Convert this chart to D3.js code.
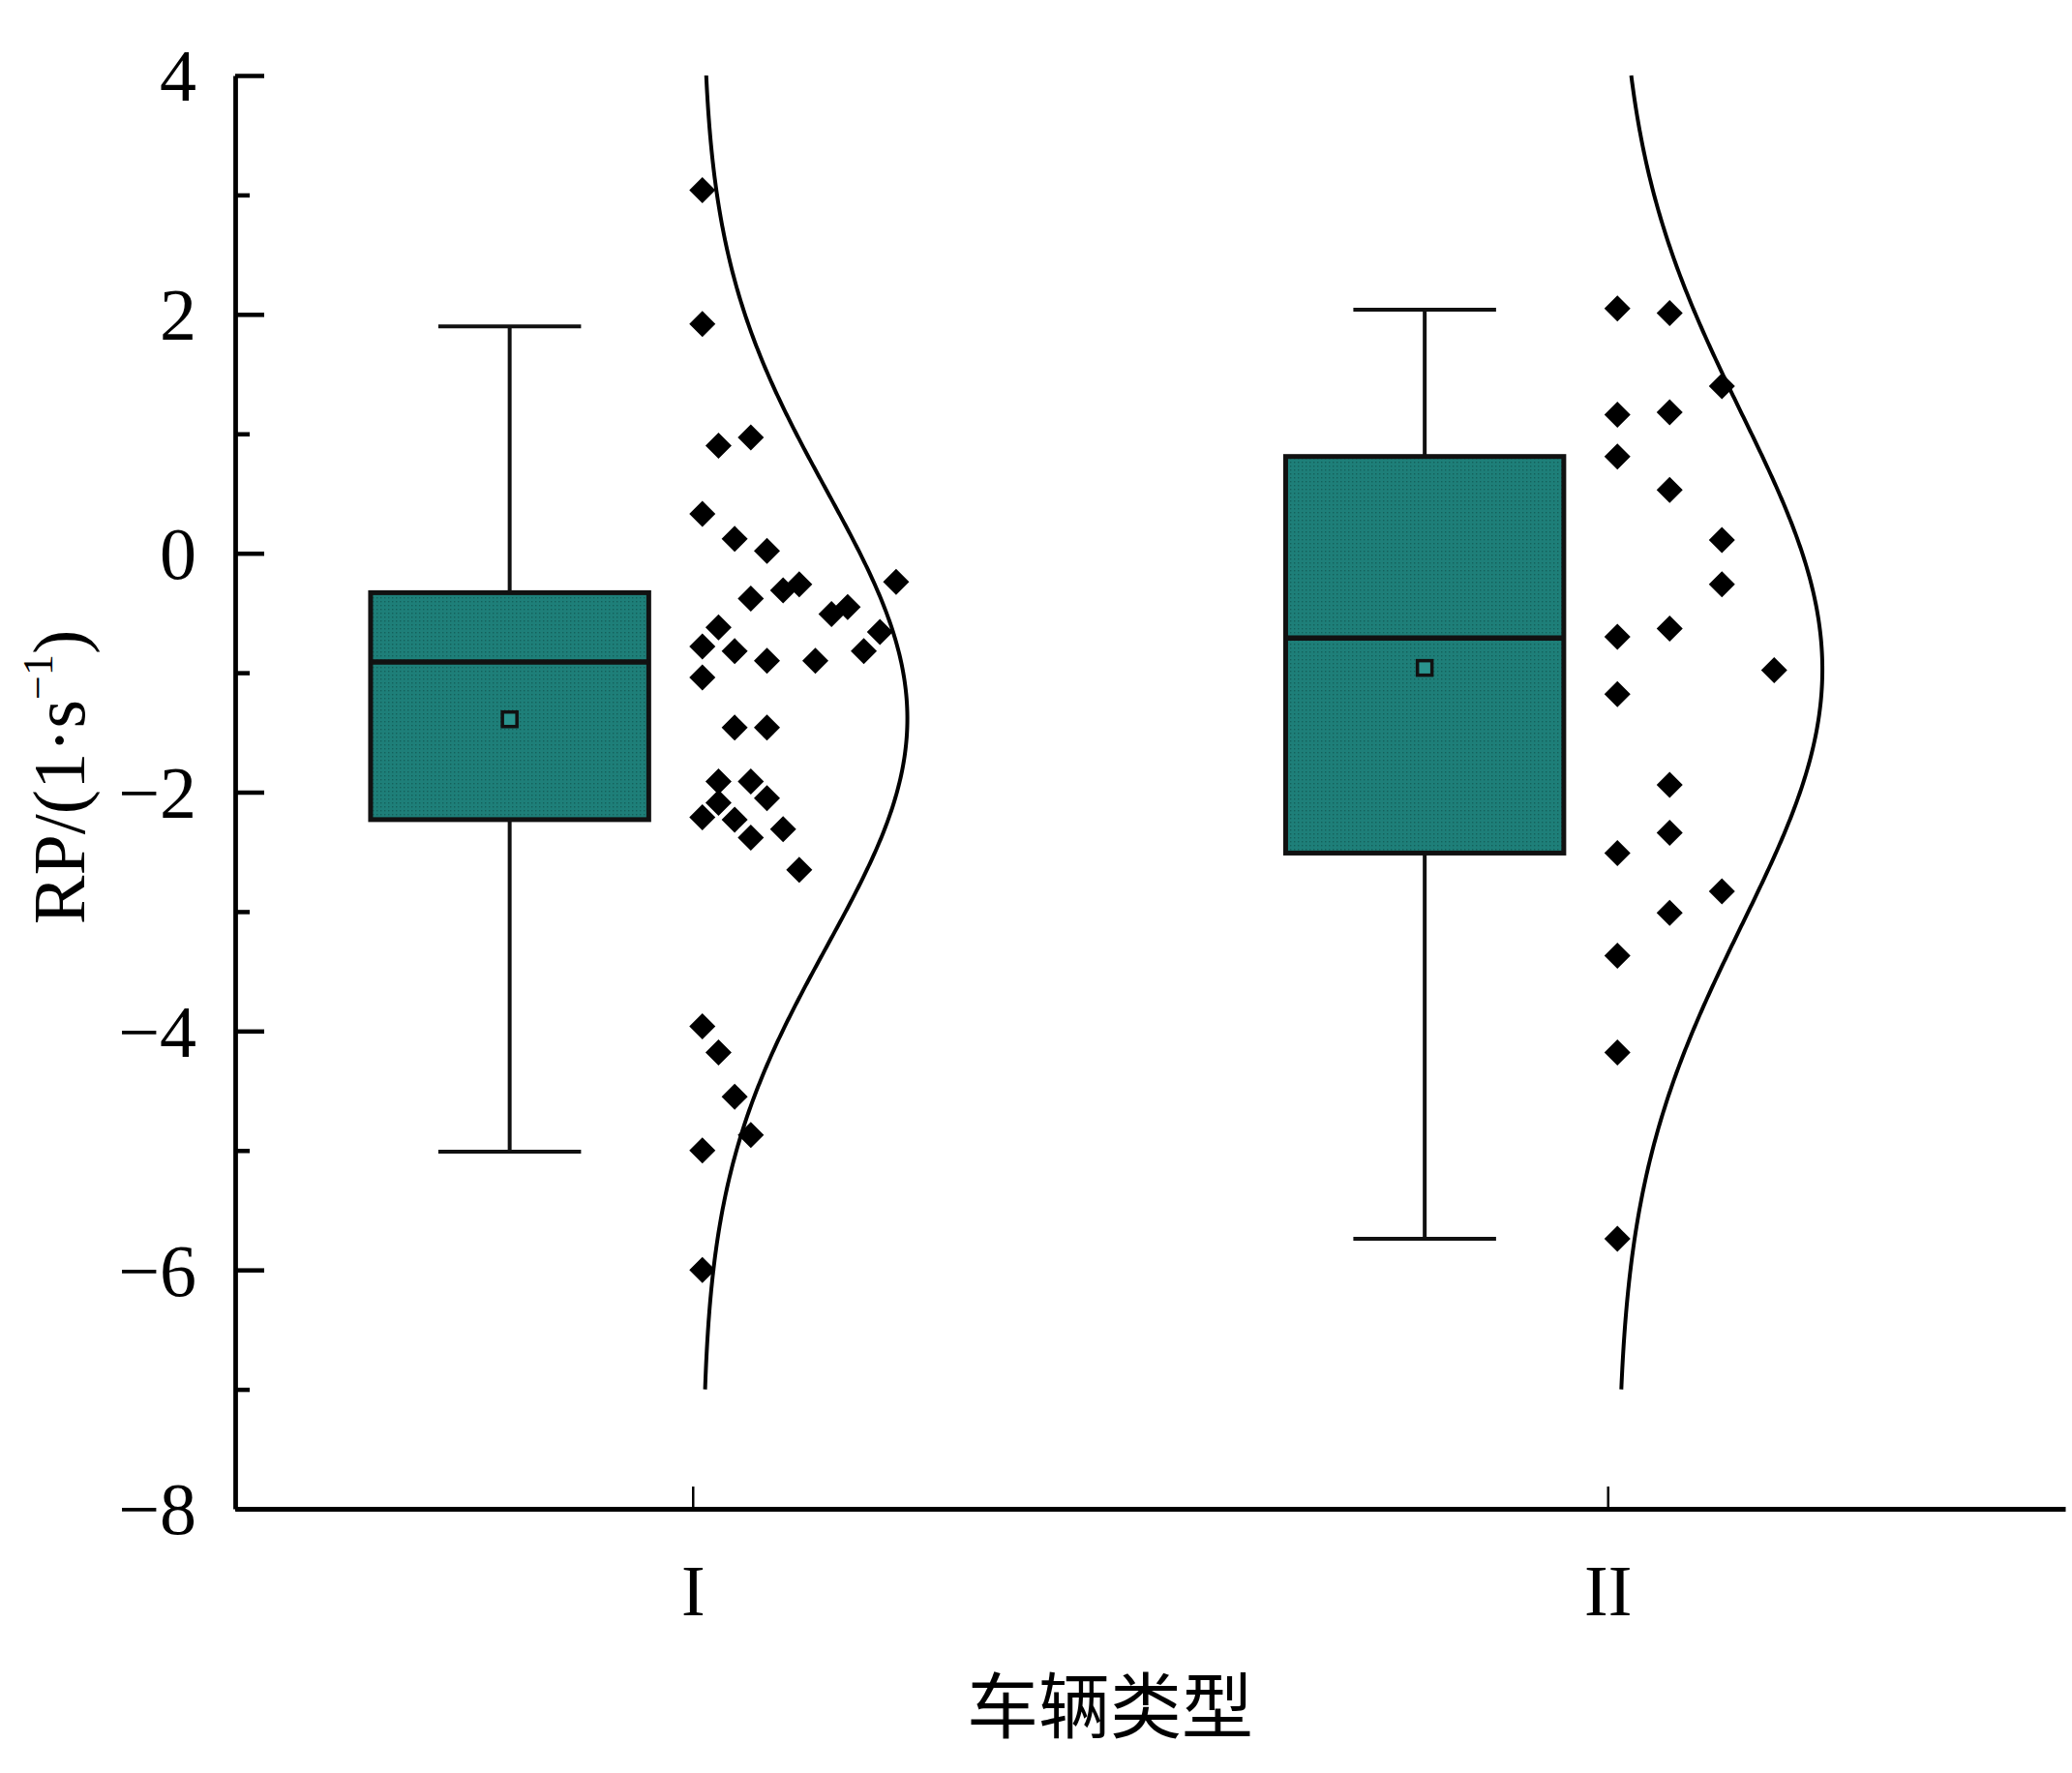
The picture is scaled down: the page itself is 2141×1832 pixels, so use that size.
<!DOCTYPE html>
<html>
<head>
<meta charset="utf-8">
<script src="https://cdn.jsdelivr.net/npm/d3@7"></script>
<style>
  html, body { margin: 0; padding: 0; background: #fff; }
  svg { display: block; }
</style>
</head>
<body>
<script>
// ---------------- data ----------------
const categories = ["I", "II"];
const categoryPos = [1, 2];

const boxQ1 = [-2.23, -2.51];
const boxMedian = [-0.91, -0.71];
const boxQ3 = [-0.33, 0.81];
const whiskerLow = [-5.01, -5.74];
const whiskerHigh = [1.90, 2.04];
const boxMean = [-1.39, -0.96];

// raw points (value) and their overlap column (slot)
const pointsI = [3.04, 1.92, 0.90, 0.97, 0.33, 0.12, 0.02, -0.24, -0.38, -0.31, -0.26, -0.51, -0.45,
  -0.62, -0.66, -0.78, -0.82, -0.90, -0.90, -0.82, -1.04, -1.46, -1.46, -1.91, -1.91, -2.05, -2.09,
  -2.21, -2.23, -2.38, -2.31, -2.65, -3.96, -4.18, -4.55, -4.87, -5.00, -6.00];
const slotsI = [0, 0, 1, 3, 0, 2, 4, 12, 3, 5, 6, 8, 9,
  1, 11, 0, 2, 4, 7, 10, 0, 2, 4, 1, 3, 4, 1,
  0, 2, 3, 5, 6, 0, 1, 2, 3, 0, 0];

const pointsII = [2.05, 1.16, 0.81, -0.70, -1.18, -2.51, -3.37, -4.18, -5.74,
  2.01, 1.18, 0.53, -0.63, -1.94, -2.34, -3.01,
  1.40, 0.11, -0.26, -2.83,
  -0.98];
const slotsII = [0, 0, 0, 0, 0, 0, 0, 0, 0,
  1, 1, 1, 1, 1, 1, 1,
  2, 2, 2, 2,
  3];

const yMajorTicks = [-8, -6, -4, -2, 0, 2, 4];
const yMinorTicks = [-7, -5, -3, -1, 1, 3];
const curveRange = [-7, 4];

const yTitle = "RP/(1·s";
const ySup = "−1";
const xTitle = "车辆类型";

// ---------------- layout ----------------
const W = 2141, H = 1832;
const svg = d3.select("body").append("svg").attr("width", W).attr("height", H);
svg.append("rect").attr("width", W).attr("height", H).attr("fill", "#fff");

const x = d3.scaleLinear().domain([0.5, 2.5]).range([243, 2134]);
const y = d3.scaleLinear().domain([-8, 4]).range([1559, 78]);

const boxOffset = -0.2, boxHalf = 0.152, capHalf = 0.078;
const pointOffset = 0.0106;
const slotStep = [0.01764, 0.0571];
const curveAmp = 0.224;

// pattern fill for boxes
const defs = svg.append("defs");
const pat = defs.append("pattern").attr("id", "teal").attr("width", 4).attr("height", 4)
  .attr("patternUnits", "userSpaceOnUse");
pat.append("rect").attr("width", 4).attr("height", 4).attr("fill", "#1e7f79");
pat.append("rect").attr("x", 1).attr("y", 1).attr("width", 1.4).attr("height", 1.4).attr("fill", "#14605a");

const serif = "'Liberation Serif', 'Times New Roman', serif";

// ---------------- boxes ----------------
categories.forEach((c, i) => {
  const cx = categoryPos[i] + boxOffset;
  const g = svg.append("g");
  g.append("line").attr("x1", x(cx)).attr("x2", x(cx))
    .attr("y1", y(whiskerHigh[i])).attr("y2", y(boxQ3[i]))
    .attr("stroke", "#111").attr("stroke-width", 4);
  g.append("line").attr("x1", x(cx)).attr("x2", x(cx))
    .attr("y1", y(boxQ1[i])).attr("y2", y(whiskerLow[i]))
    .attr("stroke", "#111").attr("stroke-width", 4);
  [whiskerHigh[i], whiskerLow[i]].forEach(v => {
    g.append("line").attr("x1", x(cx - capHalf)).attr("x2", x(cx + capHalf))
      .attr("y1", y(v)).attr("y2", y(v))
      .attr("stroke", "#111").attr("stroke-width", 4);
  });
  g.append("rect").attr("x", x(cx - boxHalf)).attr("y", y(boxQ3[i]))
    .attr("width", x(cx + boxHalf) - x(cx - boxHalf))
    .attr("height", y(boxQ1[i]) - y(boxQ3[i]))
    .attr("fill", "url(#teal)").attr("stroke", "#111").attr("stroke-width", 5);
  g.append("line").attr("x1", x(cx - boxHalf)).attr("x2", x(cx + boxHalf))
    .attr("y1", y(boxMedian[i])).attr("y2", y(boxMedian[i]))
    .attr("stroke", "#111").attr("stroke-width", 5.5);
  g.append("rect").attr("x", x(cx) - 7.5).attr("y", y(boxMean[i]) - 7.5)
    .attr("width", 15).attr("height", 15)
    .attr("fill", "#2a948e").attr("stroke", "#111").attr("stroke-width", 3.5);
});

// ---------------- points ----------------
const diamond = "M0,-13.5L13.5,0L0,13.5L-13.5,0Z";
const groups = [
  { vals: pointsI, slots: slotsI },
  { vals: pointsII, slots: slotsII }
];
groups.forEach((grp, i) => {
  const base = categoryPos[i] + pointOffset;
  svg.append("g").selectAll("path").data(grp.vals).join("path")
    .attr("d", diamond)
    .attr("transform", (v, k) => `translate(${x(base + grp.slots[k] * slotStep[i])},${y(v)})`)
    .attr("fill", "#000");
});

// ---------------- normal curves ----------------
groups.forEach((grp, i) => {
  const mu = d3.mean(grp.vals), sd = d3.deviation(grp.vals);
  const base = categoryPos[i] + pointOffset;
  const ys = d3.range(curveRange[0], curveRange[1] + 1e-9, 0.02);
  const line = d3.line()
    .x(v => x(base + curveAmp * Math.exp(-((v - mu) ** 2) / (2 * sd * sd))))
    .y(v => y(v));
  svg.append("path").attr("d", line(ys)).attr("fill", "none")
    .attr("stroke", "#000").attr("stroke-width", 4);
});

// ---------------- axes ----------------
const yAxis = d3.axisLeft(y).tickValues(yMajorTicks).tickSize(-30).tickSizeOuter(0).tickPadding(40);
const gy = svg.append("g").attr("transform", `translate(${x(0.5)},0)`).call(yAxis);
gy.select(".domain").attr("stroke", "#000").attr("stroke-width", 4.8);
gy.selectAll(".tick line").attr("stroke", "#000").attr("stroke-width", 4.5);
gy.selectAll(".tick text").attr("font-family", serif).attr("font-size", 76).attr("fill", "#000")
  .attr("dy", "0.34em");

const yMinor = d3.axisLeft(y).tickValues(yMinorTicks).tickSize(-15).tickSizeOuter(0).tickFormat("");
const gym = svg.append("g").attr("transform", `translate(${x(0.5)},0)`).call(yMinor);
gym.select(".domain").remove();
gym.selectAll(".tick line").attr("stroke", "#000").attr("stroke-width", 4.5);

const xAxis = d3.axisBottom(x).tickValues(categoryPos).tickSize(-23).tickSizeOuter(0)
  .tickFormat((d, i) => categories[i]).tickPadding(57);
const gx = svg.append("g").attr("transform", `translate(0,${y(-8)})`).call(xAxis);
gx.select(".domain").attr("stroke", "#000").attr("stroke-width", 4.8);
gx.selectAll(".tick line").attr("stroke", "#000").attr("stroke-width", 2.5);
gx.selectAll(".tick text").attr("font-family", serif).attr("font-size", 74).attr("fill", "#000");

// ---------------- titles ----------------
const yt = svg.append("text")
  .attr("transform", `translate(61,803) rotate(-90)`)
  .attr("text-anchor", "middle").attr("dominant-baseline", "central")
  .attr("font-family", serif).attr("font-size", 76).attr("fill", "#000");
yt.append("tspan").text(yTitle);
yt.append("tspan").attr("font-size", 44).attr("dy", "-0.5em").text(ySup);
yt.append("tspan").attr("dy", "0.29em").text(")");

svg.append("text").attr("x", 1147).attr("y", 1757)
  .attr("text-anchor", "middle").attr("dominant-baseline", "central")
  .attr("font-family", "'Noto Sans CJK SC', sans-serif").attr("font-size", 74).attr("fill", "#000")
  .text(xTitle);
</script>
</body>
</html>
